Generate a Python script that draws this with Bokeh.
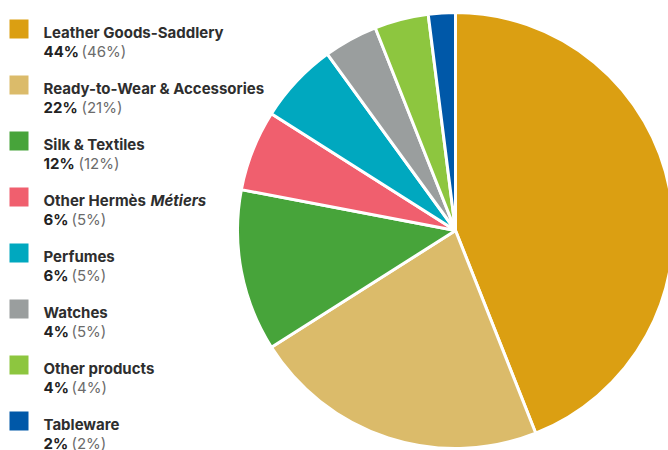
import numpy as np
from bokeh.plotting import figure
from bokeh.models import Range1d, ColumnDataSource
from bokeh.core.properties import value
from bokeh.embed import file_html
from bokeh.resources import INLINE

categories = ["Leather Goods-Saddlery", "Ready-to-Wear & Accessories", "Silk & Textiles",
              "Other Hermès", "Perfumes", "Watches", "Other products", "Tableware"]
italic_suffix = ["", "", "", "Métiers", "", "", "", ""]
shares = [44, 22, 12, 6, 6, 4, 4, 2]
prev_shares = [46, 21, 12, 5, 5, 5, 4, 2]
colors = ["#DB9F12", "#DBBB6A", "#47A43A", "#F05F6E", "#00A8BF", "#9A9E9E", "#8DC63F", "#0058A8"]

W, H = 668, 450
p = figure(width=W, height=H, output_backend="svg", toolbar_location=None,
           x_range=Range1d(0, W), y_range=Range1d(0, H), min_border=0)
p.axis.visible = False
p.grid.visible = False
p.outline_line_color = None
p.background_fill_color = "white"

# pie
frac = np.array(shares, dtype=float) / sum(shares)
cum = np.concatenate([[0], np.cumsum(frac)])
start = np.pi / 2 - cum[:-1] * 2 * np.pi
end = np.pi / 2 - cum[1:] * 2 * np.pi
src = ColumnDataSource(dict(start=start, end=end, color=colors))
cx, cy, r = 455, H - 230, 218
p.wedge(x=cx, y=cy, radius=r, start_angle="start", end_angle="end", direction="clock",
        fill_color="color", line_color="white", line_width=3, source=src)

# legend
font = value("Inter")
n = len(categories)
idx = np.arange(n)
sq_top = 19 + 56 * idx
p.rect(x=18.5, y=H - (sq_top + 9.5), width=19, height=19, fill_color=colors, line_color=None)

shift = 6
b1 = H - (38 + 56 * idx) + shift
b2 = H - (57 + 56 * idx) + shift
p.text(x=43, y=b1, text=categories, text_font=font, text_font_size="15px",
       text_font_style="bold", text_color="#2e2e2e", text_baseline="alphabetic")
sel = [i for i in range(n) if italic_suffix[i]]
p.text(x=[150] * len(sel), y=[b1[i] for i in sel], text=[italic_suffix[i] for i in sel],
       text_font=font, text_font_size="15px",
       text_font_style="bold italic", text_color="#2e2e2e", text_baseline="alphabetic")

cur = [f"{s}%" for s in shares]
prev = [f"({s}%)" for s in prev_shares]
p.text(x=43, y=b2, text=cur, text_font=font, text_font_size="15px",
       text_font_style="bold", text_color="#222222", text_baseline="alphabetic")
cw = {"1": 7.0}
offs = [43 + sum(cw.get(c, 10.0) for c in str(s)) + 14.5 + 3.5 for s in shares]
p.text(x=offs, y=b2, text=prev, text_font=font, text_font_size="15px",
       text_font_style="normal", text_color="#6b6b6b", text_baseline="alphabetic")

open("out.html", "w").write(file_html(p, INLINE))
